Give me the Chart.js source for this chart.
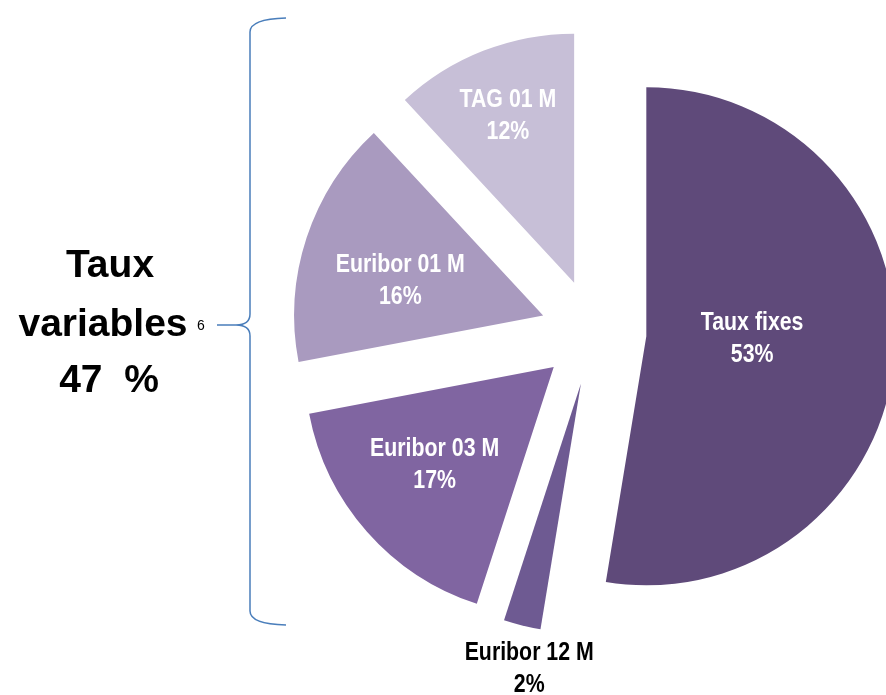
<!DOCTYPE html>
<html>
<head>
<meta charset="utf-8">
<script src="https://cdn.jsdelivr.net/npm/chart.js@4.4.1/dist/chart.umd.min.js"></script>
<style>
  html, body { margin: 0; padding: 0; background: #ffffff; overflow: hidden; }
  #wrap { width: 886px; height: 695px; position: relative; }
</style>
</head>
<body>
<div id="wrap"><canvas id="c" width="886" height="695"></canvas></div>
<script>
// ---- data ----
const categories = ['Taux fixes', 'Euribor 12 M', 'Euribor 03 M', 'Euribor 01 M', 'TAG 01 M'];
const shares = [52.6, 2.4, 17.0, 16.1, 11.9];
const variableLabelLines = ['Taux', 'variables'];
const braceNote = '6';

// ---- style ----
const sliceColors = ['#5F4A7A', '#6E5A92', '#8065A1', '#A99ABF', '#C7BFD7'];

function pct(v) { return Math.round(v) + '%'; }
const variableTotal = Math.round(shares.slice(1).reduce((a, b) => a + b, 0));

function narrowText(ctx, text, x, y, size, color) {
  ctx.save();
  ctx.translate(x, y);
  ctx.scale(0.82, 1);
  ctx.font = 'bold ' + size + 'px "Liberation Sans", Arial, sans-serif';
  ctx.fillStyle = color;
  ctx.textAlign = 'center';
  ctx.textBaseline = 'middle';
  ctx.fillText(text, 0, 0);
  ctx.restore();
}

const explodePlugin = {
  id: 'explode',
  beforeDatasetDraw(chart, args, opts) {
    const ctx = chart.ctx;
    args.meta.data.forEach(arc => {
      const mid = (arc.startAngle + arc.endAngle) / 2;
      ctx.save();
      ctx.translate(Math.cos(mid) * opts.distance, Math.sin(mid) * opts.distance);
      arc.draw(ctx);
      ctx.restore();
    });
    return false;
  }
};

const sliceLabelPlugin = {
  id: 'sliceLabels',
  afterDatasetsDraw(chart, args, opts) {
    const ctx = chart.ctx;
    const meta = chart.getDatasetMeta(0);
    const d = chart.options.plugins.explode.distance;
    meta.data.forEach((arc, i) => {
      const mid = (arc.startAngle + arc.endAngle) / 2;
      const ax = arc.x + Math.cos(mid) * d;
      const ay = arc.y + Math.sin(mid) * d;
      const a = mid + opts.turn[i] * Math.PI / 180;
      const r = arc.outerRadius * opts.radius[i];
      const x = ax + Math.cos(a) * r;
      const y = ay + Math.sin(a) * r;
      const color = opts.colors[i];
      narrowText(ctx, chart.data.labels[i], x, y - opts.lineGap / 2, opts.size, color);
      narrowText(ctx, pct(chart.data.datasets[0].data[i]), x, y + opts.lineGap / 2, opts.size, color);
    });
  }
};

const bracePlugin = {
  id: 'brace',
  afterDraw(chart, args, opts) {
    const ctx = chart.ctx;
    ctx.save();
    ctx.strokeStyle = opts.color;
    ctx.lineWidth = 1.5;
    ctx.beginPath();
    ctx.moveTo(286, 18);
    ctx.quadraticCurveTo(250, 19, 250, 32);
    ctx.lineTo(250, 314);
    ctx.quadraticCurveTo(250, 325, 236, 325);
    ctx.lineTo(217, 325);
    ctx.moveTo(236, 325);
    ctx.quadraticCurveTo(250, 325, 250, 336);
    ctx.lineTo(250, 611);
    ctx.quadraticCurveTo(250, 624, 286, 625);
    ctx.stroke();

    ctx.fillStyle = '#000000';
    ctx.textAlign = 'center';
    ctx.textBaseline = 'middle';
    ctx.font = 'bold 39px "Liberation Sans", Arial, sans-serif';
    ctx.fillText(variableLabelLines[0], 110, 266);
    ctx.fillText(variableLabelLines[1], 103, 325);
    ctx.fillText(variableTotal + '  %', 109, 381);
    ctx.font = '14px "Liberation Sans", Arial, sans-serif';
    ctx.fillText(braceNote, 201, 326);
    ctx.restore();
  }
};

new Chart(document.getElementById('c'), {
  type: 'pie',
  data: {
    labels: categories,
    datasets: [{
      data: shares,
      backgroundColor: sliceColors,
      borderWidth: 0,
      radius: 249
    }]
  },
  options: {
    responsive: false,
    animation: false,
    events: [],
    layout: { padding: { left: 301, right: 0, top: 0, bottom: 31 } },
    plugins: {
      legend: { display: false },
      tooltip: { enabled: false },
      explode: { distance: 53 },
      sliceLabels: {
        size: 26,
        lineGap: 32,
        colors: ['#FFFFFF', '#000000', '#FFFFFF', '#FFFFFF', '#FFFFFF'],
        radius: [0.425, 1.165, 0.62, 0.59, 0.722],
        turn: [-3.5, -3.4, 1.9, -4.7, -0.2]
      },
      brace: { color: '#4A7EBB' }
    }
  },
  plugins: [explodePlugin, sliceLabelPlugin, bracePlugin]
});
</script>
</body>
</html>
